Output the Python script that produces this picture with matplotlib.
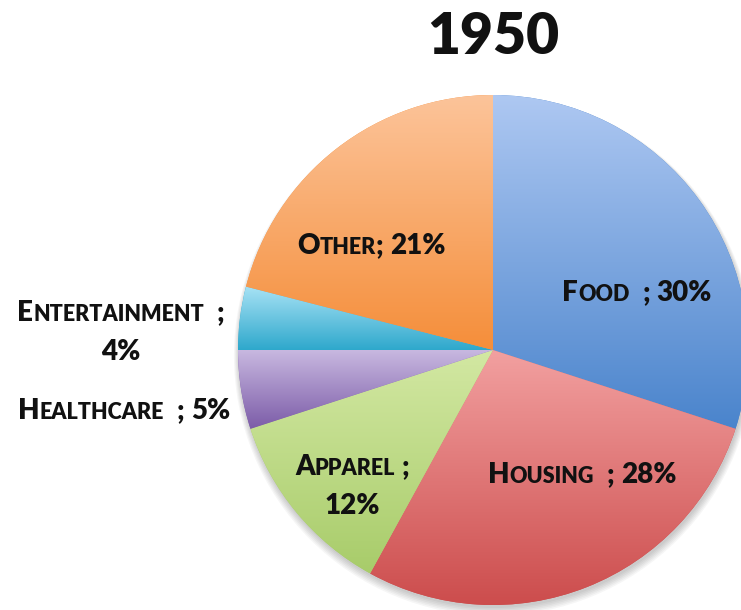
import numpy as np
import matplotlib
matplotlib.use('Agg')
import matplotlib.pyplot as plt
from matplotlib.colors import to_rgb
from matplotlib.patches import Circle

# data
categories = ['Food', 'Housing', 'Apparel', 'Healthcare', 'Entertainment', 'Other']
shares = [30, 28, 12, 5, 4, 21]
title = '1950'

# top / bottom colours of each slice gradient
top_colors = ['#aec8f2', '#f2a0a0', '#d3e8a3', '#c8b8e0', '#a8e2f5', '#fcc49a']
bottom_colors = ['#4a84cc', '#cc4c4c', '#a8cc6a', '#7c5ca8', '#2ea8cc', '#f58e3a']

# label text (lines) and centre position in pixels
label_lines = [
    ['Food  ; 30%'],
    ['Housing  ; 28%'],
    ['Apparel ;', '12%'],
    ['Healthcare  ; 5%'],
    ['Entertainment  ;', '4%'],
    ['Other; 21%'],
]
label_pos = [(637, 292), (582, 474), (352, 466), (124, 410), (121, 312), (371, 245)]

W, H = 741, 610
FONT = 'Lato'
WEIGHT = 'heavy'
BIG = 20
SMALL = 15.5

fig = plt.figure(figsize=(W / 100, H / 100), dpi=100)
fig.patch.set_facecolor('white')

cx, cy, r = 493, 350, 255
ax = fig.add_axes([(cx - r) / W, (H - cy - r) / H, 2 * r / W, 2 * r / H])
ax.set_xlim(-1, 1)
ax.set_ylim(-1, 1)
ax.set_aspect('equal')
ax.axis('off')

# soft shadow below the pie
for k in range(6):
    ax.add_patch(Circle((0.004, -0.012 - 0.002 * k), 1 + 0.004 * k, color='#000000',
                        alpha=0.035, lw=0, zorder=0, clip_on=False))

wedges, _ = ax.pie(shares, startangle=90, counterclock=False, radius=1,
                   colors=bottom_colors, wedgeprops=dict(linewidth=0))

# vertical gradient fill inside each slice
for w, c1, c2 in zip(wedges, top_colors, bottom_colors):
    verts = w.get_path().vertices
    y0, y1 = verts[:, 1].min(), verts[:, 1].max()
    x0, x1 = verts[:, 0].min(), verts[:, 0].max()
    t = np.linspace(0, 1, 256)[:, None]
    a, b = np.array(to_rgb(c1)), np.array(to_rgb(c2))
    img = (a * (1 - t) + b * t)[:, None, :]
    im = ax.imshow(img, extent=[x0, x1, y0, y1], aspect='auto', zorder=2,
                   interpolation='bilinear')
    im.set_clip_path(w)
ax.set_xlim(-1, 1)
ax.set_ylim(-1, 1)

renderer = fig.canvas.get_renderer()


def text_width(s, size):
    t = fig.text(0, 0, s, fontsize=size, fontweight=WEIGHT, family=FONT)
    w = t.get_window_extent(renderer).width
    t.remove()
    return w


def runs_of(line):
    # small caps: capitals big, lowercase drawn as small capitals
    runs = []
    for ch in line:
        if ch == ' ':
            runs.append((' ', None))
            continue
        size = SMALL if ch.islower() else BIG
        ch = ch.upper()
        if runs and runs[-1][1] == size:
            runs[-1] = (runs[-1][0] + ch, size)
        else:
            runs.append((ch, size))
    return runs


space_w = text_width('x x', BIG) - text_width('xx', BIG)


def draw_line(x_px, y_px, line):
    runs = runs_of(line)
    widths = [space_w if s == ' ' else text_width(s, sz) for s, sz in runs]
    x = x_px - sum(widths) / 2
    for (s, sz), w in zip(runs, widths):
        if s != ' ':
            fig.text(x / W, (H - y_px) / H, s, fontsize=sz, fontweight=WEIGHT,
                     family=FONT, ha='left', va='baseline', color='#111111')
        x += w


for lines, (lx, ly) in zip(label_lines, label_pos):
    for i, line in enumerate(lines):
        draw_line(lx, ly + 9 + i * 39, line)

fig.text(493 / W, (H - 54) / H, title, fontsize=41, fontweight=WEIGHT,
         family=FONT, ha='center', va='baseline', color='#111111')

fig.savefig('out.png', dpi=100)
